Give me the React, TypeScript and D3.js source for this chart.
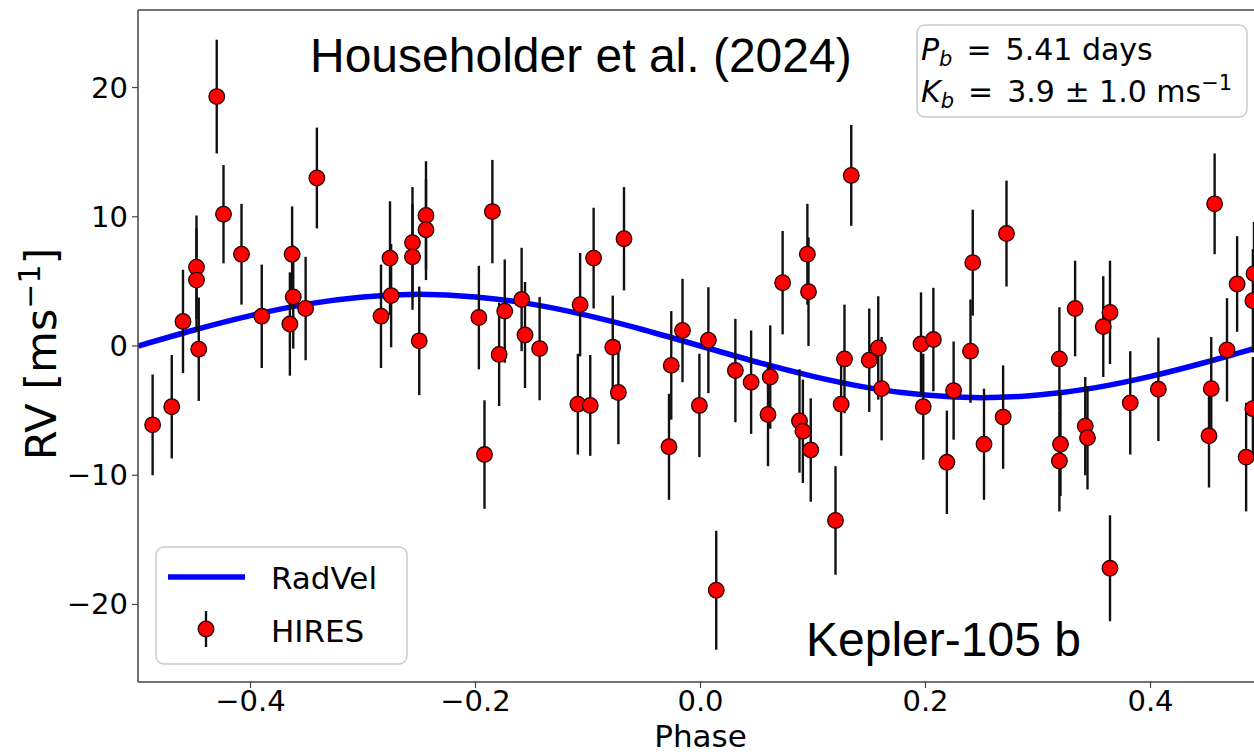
import React from 'react';
import * as d3 from 'd3';

// ---- data ----
const phases = [
  -0.487, -0.470, -0.460, -0.448, -0.448, -0.446, -0.430, -0.424, -0.408, -0.390,
  -0.365, -0.363, -0.362, -0.351, -0.341, -0.284, -0.276, -0.275, -0.256, -0.256,
  -0.244, -0.244, -0.250, -0.197, -0.192, -0.185, -0.179, -0.174, -0.159, -0.156,
  -0.143, -0.109, -0.107, -0.098, -0.095, -0.078, -0.073, -0.068, -0.028, -0.026,
  -0.016, -0.001, 0.007, 0.014, 0.031, 0.045, 0.060, 0.062, 0.073, 0.088,
  0.091, 0.095, 0.096, 0.098, 0.120, 0.125, 0.128, 0.134, 0.150, 0.158,
  0.161, 0.196, 0.198, 0.207, 0.219, 0.225, 0.240, 0.242, 0.252, 0.269,
  0.272, 0.319, 0.320, 0.319, 0.333, 0.342, 0.344, 0.358, 0.364, 0.364,
  0.382, 0.407, 0.452, 0.454, 0.457, 0.468, 0.477, 0.485, 0.491, 0.491,
  0.492,
];
const rvValues = [
  -6.1, -4.7, 1.9, 6.1, 5.1, -0.25, 19.3, 10.2, 7.1, 2.3,
  1.7, 7.1, 3.8, 2.9, 13.0, 2.3, 6.8, 3.9, 8.0, 6.9,
  10.1, 9.0, 0.4, 2.2, -8.4, 10.4, -0.65, 2.7, 3.6, 0.85,
  -0.2, -4.5, 3.2, -4.6, 6.8, -0.1, -3.6, 8.3, -7.8, -1.5,
  1.2, -4.6, 0.45, -18.9, -1.9, -2.8, -5.3, -2.4, 4.9, -5.8,
  -6.6, 7.1, 4.2, -8.05, -13.5, -4.5, -1.0, 13.2, -1.1, -0.15,
  -3.3, 0.15, -4.7, 0.5, -9.0, -3.45, -0.4, 6.45, -7.6, -5.5,
  8.7, -1.0, -7.6, -8.9, 2.9, -6.2, -7.1, 1.5, 2.6, -17.2,
  -4.4, -3.35, -6.95, -3.3, 11.0, -0.3, 4.8, -8.6, -4.85, 3.5,
  5.6,
];
const rvErrors = [
  3.9, 4.0, 4.0, 4.0, 4.0, 4.0, 4.4, 3.8, 3.9, 4.0,
  4.0, 3.7, 4.0, 4.0, 3.9, 4.0, 4.4, 4.0, 4.3, 4.1,
  4.2, 3.9, 4.2, 4.0, 4.2, 4.0, 4.0, 4.0, 4.0, 4.1,
  4.0, 3.9, 4.0, 3.9, 3.9, 4.0, 4.0, 4.0, 4.1, 4.2,
  4.0, 4.0, 4.1, 4.6, 4.0, 4.0, 4.0, 4.0, 4.0, 4.0,
  4.0, 3.9, 4.2, 4.0, 4.2, 4.0, 4.2, 3.9, 4.0, 4.0,
  4.0, 4.0, 4.1, 4.0, 4.0, 3.8, 4.0, 4.1, 4.3, 4.0,
  4.1, 4.0, 4.0, 3.9, 3.7, 3.8, 4.0, 3.9, 4.0, 4.1,
  4.0, 4.0, 4.0, 4.0, 3.9, 4.0, 3.7, 4.2, 4.0, 4.0,
  4.0,
];

const modelPhases = [
  -0.5, -0.45, -0.4, -0.35, -0.3, -0.25, -0.2, -0.15, -0.1, -0.05, 0,
  0.05, 0.1, 0.15, 0.2, 0.25, 0.3, 0.35, 0.4, 0.45, 0.5,
];
const modelRV = [
  0, 1.24, 2.35, 3.24, 3.8, 4.0, 3.8, 3.24, 2.35, 1.24, 0,
  -1.24, -2.35, -3.24, -3.8, -4.0, -3.8, -3.24, -2.35, -1.24, 0,
];

const xTicks = [-0.4, -0.2, 0.0, 0.2, 0.4];
const yTicks = [-20, -10, 0, 10, 20];
const xTickLabels = ['\u22120.4', '\u22120.2', '0.0', '0.2', '0.4'];
const yTickLabels = ['\u221220', '\u221210', '0', '10', '20'];

const W = 1254;
const H = 755;
const PL = 138, PR = 1263, PT = 10, PB = 682;
const DV = 'DejaVu Sans, Verdana, sans-serif';
const AR = 'Liberation Sans, Arial, sans-serif';
const R = 7.8;

export default function App() {
  const x = d3.scaleLinear().domain([-0.5, 0.5]).range([PL, PR]);
  const y = d3.scaleLinear().domain([-26, 26]).range([PB, PT]);
  const line = d3
    .line<number>()
    .x((_, i) => x(modelPhases[i]))
    .y((d) => y(d))
    .curve(d3.curveNatural);
  const pts = phases.map((p, i) => ({ p, v: rvValues[i], e: rvErrors[i] }));

  return (
    <svg
      width={W}
      height={H}
      viewBox={`0 0 ${W} ${H}`}
      style={{ position: 'absolute', left: 0, top: 0, background: '#fff' }}
    >
      <defs>
        <clipPath id="plotclip">
          <rect x={PL} y={PT} width={PR - PL} height={PB - PT} />
        </clipPath>
      </defs>
      <rect x={0} y={0} width={W} height={H} fill="#fff" />
      <g clipPath="url(#plotclip)">
        <path d={line(modelRV) || ''} fill="none" stroke="#0000ff" strokeWidth={5.5} />
        {pts.map((d, i) => (
          <line
            key={'e' + i}
            x1={x(d.p)}
            x2={x(d.p)}
            y1={y(d.v - d.e)}
            y2={y(d.v + d.e)}
            stroke="#111"
            strokeWidth={2.4}
          />
        ))}
        {pts.map((d, i) => (
          <circle
            key={'c' + i}
            cx={x(d.p)}
            cy={y(d.v)}
            r={R}
            fill="#ff0000"
            stroke="#2a0000"
            strokeWidth={1.3}
          />
        ))}
      </g>

      {/* frame */}
      <line x1={PL} x2={PL} y1={PT} y2={PB} stroke="#444" strokeWidth={1.5} />
      <line x1={PL} x2={PR} y1={PB} y2={PB} stroke="#444" strokeWidth={1.5} />
      <line x1={PL} x2={PR} y1={PT} y2={PT} stroke="#444" strokeWidth={1.5} />
      <line x1={PR} x2={PR} y1={PT} y2={PB} stroke="#444" strokeWidth={1.5} />

      {/* x ticks */}
      {xTicks.map((t, i) => (
        <g key={'xt' + i}>
          <line x1={x(t)} x2={x(t)} y1={PB} y2={PB + 6} stroke="#444" strokeWidth={1.2} />
          <text x={x(t)} y={PB + 29} textAnchor="middle" fontFamily={DV} fontSize={29} fill="#000">
            {xTickLabels[i]}
          </text>
        </g>
      ))}
      {/* y ticks */}
      {yTicks.map((t, i) => (
        <g key={'yt' + i}>
          <line x1={PL - 6} x2={PL} y1={y(t)} y2={y(t)} stroke="#444" strokeWidth={1.2} />
          <text x={PL - 10} y={y(t) + 10} textAnchor="end" fontFamily={DV} fontSize={29} fill="#000">
            {yTickLabels[i]}
          </text>
        </g>
      ))}

      <text x={x(0)} y={747} textAnchor="middle" fontFamily={DV} fontSize={31} fill="#000">
        Phase
      </text>
      <text
        transform={`translate(56, 354) rotate(-90)`}
        textAnchor="middle"
        fontFamily={DV}
        fontSize={43}
        fill="#000"
      >
        RV [ms
        <tspan dy={-16} fontSize={30}>{'\u22121'}</tspan>
        <tspan dy={16}>]</tspan>
      </text>

      {/* annotations */}
      <text x={310} y={72} fontFamily={AR} fontSize={48} fill="#000">
        Householder et al. (2024)
      </text>
      <text x={806} y={656} fontFamily={AR} fontSize={48} fill="#000">
        Kepler-105 b
      </text>

      {/* info box */}
      <rect x={917} y={25} width={330} height={92} rx={8} fill="#fff" fillOpacity={0.8} stroke="#ccc" strokeWidth={1.5} />
      <text x={921} y={60} fontFamily={DV} fontSize={30} fill="#000">
        <tspan fontStyle="italic">P</tspan>
        <tspan fontStyle="italic" fontSize={21} dy={6}>b</tspan>
        <tspan dy={-6} dx={14}>=</tspan>
        <tspan dx={14}>5.41 days</tspan>
      </text>
      <text x={921} y={102} fontFamily={DV} fontSize={30} fill="#000">
        <tspan fontStyle="italic">K</tspan>
        <tspan fontStyle="italic" fontSize={21} dy={6}>b</tspan>
        <tspan dy={-6} dx={14}>=</tspan>
        <tspan dx={14}>{'3.9 \u00b1 1.0 ms'}</tspan>
        <tspan dy={-12} fontSize={21}>{'\u22121'}</tspan>
      </text>

      {/* legend */}
      <rect x={156} y={547} width={251} height={117} rx={8} fill="#fff" fillOpacity={0.8} stroke="#ccc" strokeWidth={1.5} />
      <line x1={168} x2={245} y1={577} y2={577} stroke="#0000ff" strokeWidth={5.5} />
      <text x={271} y={589} fontFamily={DV} fontSize={31} fill="#000">RadVel</text>
      <line x1={206} x2={206} y1={611} y2={647} stroke="#111" strokeWidth={2.4} />
      <circle cx={206} cy={629} r={R} fill="#ff0000" stroke="#2a0000" strokeWidth={1.3} />
      <text x={271} y={642} fontFamily={DV} fontSize={31} fill="#000">HIRES</text>
    </svg>
  );
}
